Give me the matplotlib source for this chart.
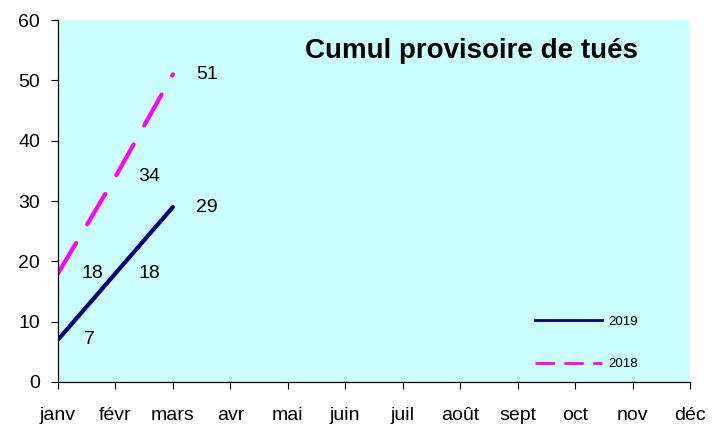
import matplotlib
matplotlib.use("Agg")
import matplotlib.pyplot as plt

plt.rcParams["font.family"] = ["Liberation Sans", "DejaVu Sans"]

mois = ["janv", "févr", "mars", "avr", "mai", "juin", "juil", "août",
        "sept", "oct", "nov", "déc"]
tues_2019 = [7, 18, 29]
tues_2018 = [18, 34, 51]

fig = plt.figure(figsize=(7.23, 4.26), dpi=100)
ax = fig.add_axes([0.0802, 0.1033, 0.8742, 0.8497])
ax.set_facecolor("#CCFFFF")

x19 = list(range(len(tues_2019)))
x18 = list(range(len(tues_2018)))

# courbes
ax.plot(x19, tues_2019, color="#000080", lw=3, solid_capstyle="round")
ax.plot(x18, tues_2018, color="#FF00FF", lw=3, dashes=(8.5, 5.2),
        dash_capstyle="round")

# étiquettes de valeurs, décalées à droite du point
for xi, v in zip(x19, tues_2019):
    ax.annotate(str(v), (xi, v), xytext=(31 if xi == 0 else 34, 0),
                textcoords="offset pixels",
                ha="center", va="center", fontsize=14)
for xi, v in zip(x18, tues_2018):
    ax.annotate(str(v), (xi, v), xytext=(34, 0), textcoords="offset pixels",
                ha="center", va="center", fontsize=14)

# légende
h19, = ax.plot([], [], color="#000080", lw=2, label="2019")
h18, = ax.plot([], [], color="#FF00FF", lw=2, dashes=(7, 3.4), label="2018")
ax.legend(handles=[h19, h18], loc="lower right",
          bbox_to_anchor=(0.937, 0.0), frameon=False, fontsize=9.5,
          handlelength=5.1, handletextpad=0.5, labelspacing=2.3)

ax.text(0.655, 0.914, "Cumul provisoire de tués", transform=ax.transAxes,
        ha="center", va="center", fontsize=20, fontweight="bold")

ax.set_xlim(0, 11)
ax.set_ylim(0, 60)
ax.set_xticks(range(12))
ax.set_xticklabels(mois)
ax.set_yticks(range(0, 61, 10))
ax.tick_params(axis="x", direction="out", length=5, pad=13, labelsize=14)
ax.tick_params(axis="y", direction="out", length=5, pad=8, labelsize=14)
for s in ["top", "right"]:
    ax.spines[s].set_visible(False)
for s in ["left", "bottom"]:
    ax.spines[s].set_linewidth(0.9)

fig.savefig("out.png", dpi=100)
